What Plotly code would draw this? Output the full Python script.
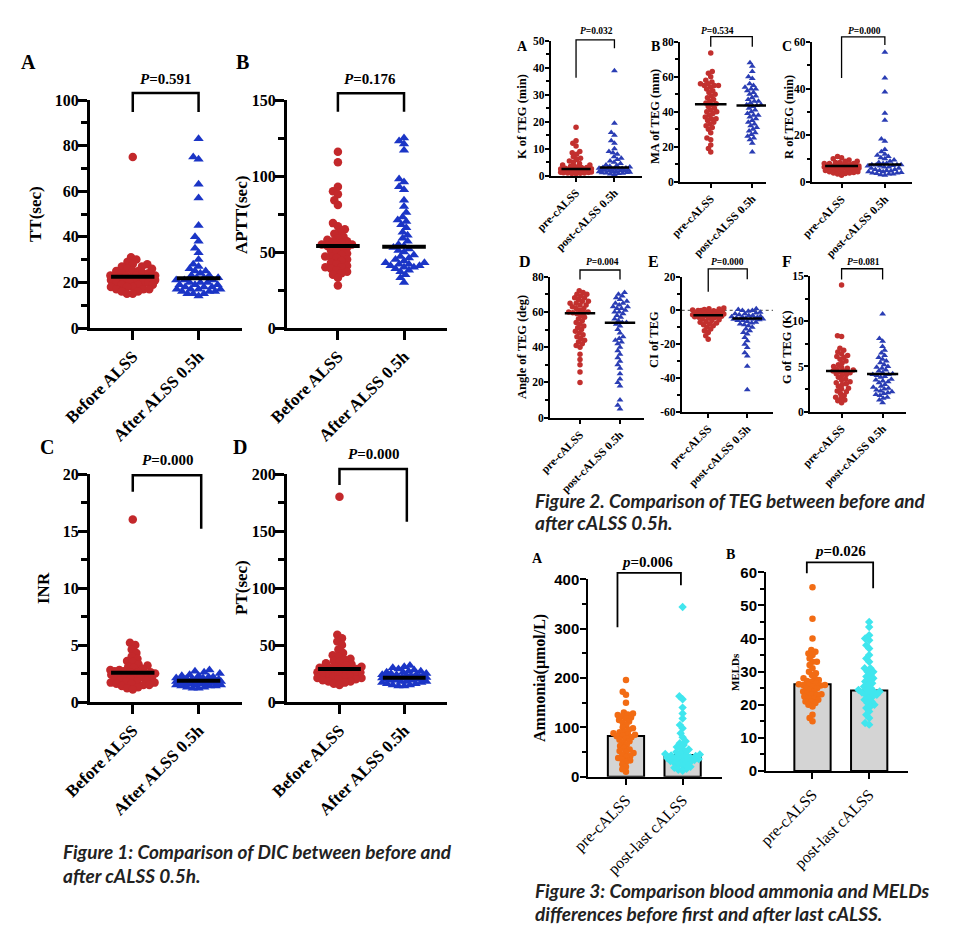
import math
import numpy as np
import plotly.graph_objects as go

W, H = 960, 932
OX, OY = 8, 8  # the page body adds an 8px margin; compensate so the picture lines up

# ---------------- data ----------------
# Figure 1 (DIC)
cat1 = ["Before ALSS", "After ALSS 0.5h"]
TT_before = [75, 31, 30, 29, 28, 28, 27, 27, 26, 26, 25, 25, 25, 24, 24, 24, 23, 23, 23, 23, 22.5, 22.5,
             22, 22, 22, 22, 21, 21, 21, 21, 20, 20, 20, 20, 19, 19, 19, 18, 18, 18, 17, 17, 17, 16, 16, 15, 15]
TT_after = [83, 75, 74, 63, 57, 45, 40, 38, 35, 33, 30, 28, 27, 26, 25, 25, 24, 23, 23, 22, 22, 22, 21, 21,
            21, 20, 20, 20, 19, 19, 19, 18, 18, 18, 17, 17, 17, 17, 16, 16, 16, 15, 15, 15, 14]
APTT_before = [116, 109, 93, 90, 88, 84, 81, 69, 67, 65, 63, 62, 60, 59, 58, 57, 57, 56, 55, 55, 54, 54, 53,
               52, 51, 50, 49, 48, 47, 47, 46, 45, 44, 43, 42, 41, 40, 40, 39, 38, 37, 36, 35, 33, 28]
APTT_after = [125, 123, 121, 117, 98, 96, 93, 91, 84, 80, 76, 73, 71, 70, 68, 66, 63, 61, 59, 57, 55, 54, 53,
              52, 51, 50, 48, 47, 46, 45, 44, 43, 43, 42, 42, 41, 41, 40, 40, 39, 38, 37, 35, 33, 30]
INR_before = [16, 5.2, 5.0, 4.6, 4.3, 4.0, 3.8, 3.6, 3.5, 3.3, 3.2, 3.1, 3.0, 2.9, 2.8, 2.8, 2.7, 2.7, 2.6,
              2.6, 2.6, 2.5, 2.5, 2.4, 2.4, 2.3, 2.3, 2.2, 2.1, 2.0, 2.0, 1.9, 1.9, 1.8, 1.8, 1.7, 1.7, 1.6,
              1.6, 1.5, 1.5, 1.4, 1.3, 1.2, 1.1]
INR_after = [2.8, 2.7, 2.6, 2.5, 2.4, 2.3, 2.3, 2.2, 2.2, 2.1, 2.1, 2.05, 2.0, 2.0, 2.0, 1.95, 1.9, 1.9, 1.9,
             1.9, 1.85, 1.85, 1.8, 1.8, 1.8, 1.8, 1.75, 1.7, 1.7, 1.7, 1.7, 1.6, 1.6, 1.6, 1.6, 1.5, 1.5, 1.5,
             1.4, 1.4, 1.4, 1.3, 1.3, 1.2, 1.2]
PT_before = [180, 59, 56, 53, 50, 46, 43, 41, 40, 38, 37, 36, 35, 34, 33, 32, 31, 31, 30, 30, 29, 29, 28,
             28, 27, 27, 26, 26, 25, 25, 24, 24, 23, 22, 22, 21, 21, 20, 20, 19, 18, 18, 17, 16, 15]
PT_after = [32, 31, 30, 29, 28, 27, 27, 26, 26, 25, 25, 24, 24, 24, 23, 23, 23, 22.5, 22, 22, 22, 22, 21.5,
            21.5, 21, 21, 21, 21, 20, 20, 20, 19, 19, 19, 18, 18, 18, 17, 17, 16, 16, 15, 15, 14, 14]
med_TT, med_APTT, med_INR, med_PT = [22.5, 21.8], [54, 53.5], [2.57, 1.87], [29, 21.3]

# Figure 2 (TEG)
cat2 = ["pre-cALSS", "post-cALSS 0.5h"]
K_before = [18, 13, 12, 11, 9, 8.5, 8, 7, 6.5, 6, 5.5, 5, 4.5, 4, 4, 3.5, 3.5, 3, 3, 3, 2.8, 2.6, 2.5, 2.5,
            2.4, 2.3, 2.2, 2.1, 2.0, 2.0, 1.9, 1.8, 1.7, 1.6, 1.5, 1.5, 1.4, 1.3, 1.2, 1.1, 1.0, 1.0, 0.9, 0.8, 0.7]
K_after = [39, 19.5, 16, 15, 13, 12, 10, 9, 8.5, 8, 7, 6.5, 6, 5.5, 5, 4.5, 4, 3.8, 3.5, 3.2, 3.0, 2.9, 2.8,
           2.7, 2.6, 2.5, 2.4, 2.3, 2.2, 2.1, 2.0, 1.9, 1.8, 1.7, 1.6, 1.5, 1.4, 1.3, 1.2, 1.1, 1.0, 0.9, 0.8, 0.6, 0.4]
MA_before = [73.5, 63, 62, 60, 58, 57, 56, 56, 55, 55, 55, 54, 53, 52, 51, 50, 49, 48, 47, 46, 45, 44.5, 44,
             43, 42, 41, 40, 40, 39, 38, 37, 36, 36, 35, 34, 33, 32, 31, 30, 28, 25, 24, 21, 19, 17]
MA_after = [68, 66, 63, 60, 59, 56, 55, 54, 53, 53, 52, 51, 50, 49, 48, 47, 46, 46, 45, 44, 44, 43.5, 43, 42,
            41, 40, 39, 38, 38, 37, 36, 35, 34, 33, 32, 31, 30, 29, 28, 27, 26, 25, 24, 22, 17]
R_before = [11, 10.5, 10, 9.5, 9, 9, 8.5, 8.5, 8, 8, 8, 7.5, 7.5, 7.5, 7, 7, 7, 7, 7, 6.8, 6.8, 6.8, 6.7, 6.5,
            6.5, 6.5, 6.2, 6, 6, 6, 5.8, 5.5, 5.5, 5.2, 5, 5, 4.8, 4.5, 4.5, 4.2, 4, 4, 3.8, 3.5, 3]
R_after = [55.5, 44.5, 38.5, 29.5, 26.5, 18.5, 17.5, 14, 13, 12, 11.5, 11, 10.5, 10, 9.5, 9, 8.5, 8, 8, 7.5,
           7.5, 7.5, 7.4, 7.2, 7, 7, 6.5, 6.5, 6, 6, 5.5, 5.5, 5, 5, 4.8, 4.5, 4.5, 4.2, 4, 4, 3.8, 3.5, 3.5, 3.2, 3]
Angle_before = [72, 71, 70, 70, 69, 68, 68, 67, 66, 66, 65, 65, 64, 64, 63, 62, 62, 61, 60, 60, 59.5, 59.5, 59,
                58, 57, 56, 55, 54, 53, 52, 51, 50, 49, 48, 47, 46, 45, 44, 43, 42, 41, 40, 36, 33, 30, 26, 20]
Angle_after = [71, 70, 69, 68, 67, 66, 65, 65, 64, 63, 63, 62, 62, 61, 60, 60, 59, 58, 57, 56, 55, 54, 54, 53,
               52, 50, 48, 46, 45, 44, 43, 42, 40, 38, 36, 34, 32, 30, 28, 25, 22, 20, 18, 10, 7, 5]
CI_before = [1.5, 1.0, 0.8, 0.5, 0.3, 0, 0, -0.2, -0.5, -0.8, -1, -1.1, -1.2, -1.5, -1.8, -2, -2.1, -2.2, -2.5,
             -2.5, -2.8, -3, -3, -3, -3.2, -3.5, -3.8, -4, -4.2, -4.5, -5, -5.5, -6, -6.5, -7, -7.5, -8, -8.5,
             -9, -10, -11, -12, -13, -15, -17]
CI_after = [1, 0.5, 0, 0, -0.5, -1, -1.5, -2, -2, -2.5, -3, -3, -3.5, -3.8, -4, -4, -4.5, -4.6, -5, -5, -5, -5,
            -5.2, -5.5, -6, -6, -6.5, -7, -7.5, -8, -8.5, -9, -10, -11, -12, -13, -14, -16, -18, -20, -22, -25,
            -27, -33, -47]
G_before = [14, 8.4, 8.3, 7.0, 6.8, 6.6, 6.4, 6.2, 6.1, 6.0, 5.8, 5.6, 5.4, 5.2, 5.0, 4.9, 4.8, 4.7, 4.6, 4.5,
            4.5, 4.4, 4.3, 4.2, 4.1, 4.0, 3.8, 3.6, 3.5, 3.3, 3.2, 3.1, 3.0, 2.8, 2.6, 2.5, 2.3, 2.2, 2.0, 1.8,
            1.6, 1.5, 1.3, 1.2, 1.0]
G_after = [10.8, 8.1, 7.8, 7.2, 6.8, 6.5, 6.2, 6.0, 5.8, 5.6, 5.4, 5.2, 5.0, 4.9, 4.8, 4.6, 4.5, 4.3, 4.2, 4.1,
           4.1, 4.0, 3.9, 3.8, 3.6, 3.5, 3.4, 3.3, 3.2, 3.0, 2.8, 2.7, 2.6, 2.5, 2.4, 2.3, 2.2, 2.1, 2.0, 1.9,
           1.8, 1.6, 1.5, 1.3, 1.0]
med_K, med_MA, med_R = [2.5, 3.0], [44.3, 43.6], [7.0, 7.6]
med_Angle, med_CI, med_G = [59.3, 53.9], [-2.8, -4.7], [4.5, 4.17]

# Figure 3 (ammonia / MELD)
cat3 = ["pre-cALSS", "post-last cALSS"]
NH3_before = [196, 172, 166, 150, 130, 128, 126, 125, 122, 120, 118, 115, 112, 110, 105, 100, 98, 95, 92, 90,
              88, 86, 85, 83, 82, 80, 78, 75, 72, 70, 65, 62, 58, 55, 52, 50, 48, 45, 42, 40, 38, 35, 33, 30,
              25, 20, 15, 10]
NH3_after = [344, 163, 157, 140, 128, 118, 105, 98, 88, 80, 72, 68, 64, 60, 57, 55, 52, 50, 48, 46, 45, 44, 43,
             42, 41, 40, 39, 38, 37, 36, 35, 34, 33, 32, 31, 30, 28, 26, 24, 22, 20, 18, 16, 14, 12]
MELD_before = [55.5, 46, 40, 36.5, 36, 35.5, 35, 34, 33, 33, 32, 31, 30, 29.5, 29, 28, 28, 27.5, 27.2, 27, 26.5,
               26.2, 26, 26, 26, 25.8, 25.5, 25, 25, 24.5, 24, 24, 23.5, 23.2, 23, 23, 22.5, 22, 22, 21.5, 21,
               21, 20.5, 20, 19.5, 17, 16, 15]
MELD_after = [45, 43.5, 41, 40, 39.5, 38, 37, 35, 34, 33, 31, 31, 30, 30, 29, 28.5, 28, 27.5, 27, 26.5, 26,
              25.5, 25, 24.5, 24.5, 24, 24, 23.7, 23.5, 23, 23, 22.5, 22, 21.5, 21, 20.5, 20, 19.5, 19, 18, 17,
              16, 14.5, 14]
bar_NH3, bar_MELD = [82.5, 44], [26.2, 24.3]

# ---------------- layout geometry (pixels of the target picture) ----------------
panels = {}


def add_panel(key, left, right, top, bottom, xr, yr):
    panels[key] = dict(n=len(panels) + 1, left=left, right=right, top=top, bottom=bottom, xr=xr, yr=yr)


add_panel("TT", 90, 242, 100, 328, [-0.65, 1.66], [0, 100])
add_panel("APTT", 287, 447, 100, 328, [-0.77, 1.65], [0, 150])
add_panel("INR", 90, 242, 474, 702, [-0.65, 1.66], [0, 20])
add_panel("PT", 287, 447, 474, 702, [-0.81, 1.66], [0, 200])
add_panel("K", 550.7, 641.7, 41, 175.7, [-0.66, 1.71], [0, 50])
add_panel("MA", 680, 766, 41.7, 181.7, [-0.74, 1.33], [0, 80])
add_panel("R", 811.7, 911.7, 41.7, 182.3, [-0.69, 1.62], [0, 60])
add_panel("Angle", 550, 644, 276.7, 417.7, [-0.75, 1.6], [0, 80])
add_panel("CI", 681.7, 773, 276.7, 411.7, [-0.68, 1.66], [-60, 20])
add_panel("G", 810, 906, 276, 411.7, [-0.77, 1.57], [0, 15])
add_panel("NH3", 588.3, 721.7, 579.3, 776.7, [-0.665, 1.69], [0, 400])
add_panel("MELD", 766, 908.3, 572.3, 771, [-0.82, 1.69], [0, 60])


def fx(px):
    return (px - OX) / W


def fy(py):
    return 1 - (py - OY) / H


def sfx(key):
    n = panels[key]["n"]
    return "" if n == 1 else str(n)


def to_paper(key, xv, yv):
    p = panels[key]
    px = p["left"] + (xv - p["xr"][0]) / (p["xr"][1] - p["xr"][0]) * (p["right"] - p["left"])
    py = p["bottom"] - (yv - p["yr"][0]) / (p["yr"][1] - p["yr"][0]) * (p["bottom"] - p["top"])
    return fx(px), fy(py)


def swarm(key, values, d, maxw):
    p = panels[key]
    xpx = (p["right"] - p["left"]) / (p["xr"][1] - p["xr"][0])
    ypx = (p["bottom"] - p["top"]) / (p["yr"][1] - p["yr"][0])
    lim = maxw * xpx
    order = sorted(range(len(values)), key=lambda i: values[i])
    placed = []
    offs = [0.0] * len(values)
    for i in order:
        y = values[i] * ypx
        cands = [0.0]
        for (qx, qy) in placed:
            dy = abs(qy - y)
            if dy < d:
                dx = math.sqrt(d * d - dy * dy)
                cands += [qx + dx, qx - dx]
        cands.sort(key=lambda c: (abs(c), c))
        best = None
        for c in cands:
            if abs(c) > lim + 1e-9:
                continue
            if all((c - qx) ** 2 + (y - qy) ** 2 >= d * d - 1e-6 for qx, qy in placed):
                best = c
                break
        if best is None:
            grid = np.linspace(-lim, lim, 41)
            scores = []
            for g in grid:
                md = min([math.hypot(g - qx, y - qy) for qx, qy in placed] or [1e9])
                scores.append((-round(md, 3), abs(g)))
            best = grid[min(range(len(grid)), key=lambda k: scores[k])]
        placed.append((best, y))
        offs[i] = best / xpx
    return offs


fig = go.Figure()

SERIF = "Liberation Serif"
SANS = "Liberation Sans"


def style_axes(key, cats, yticks, minor, st):
    s = sfx(key)
    p = panels[key]
    fig.update_layout(**{
        f"xaxis{s}": dict(
            domain=[fx(p["left"]), fx(p["right"])], range=p["xr"], anchor=f"y{s}", automargin=False,
            showline=True, linewidth=st["lw"], linecolor="black", showgrid=False, zeroline=False,
            tickvals=[0, 1], ticktext=cats, ticks="outside", ticklen=st["tl"], tickwidth=st["lw"],
            tickcolor="black", tickangle=-45,
            tickfont=dict(family=st["xfam"], size=st["xfs"], color="black", weight=st["xw"]),
        ),
        f"yaxis{s}": dict(
            domain=[fy(p["bottom"]), fy(p["top"])], range=p["yr"], anchor=f"x{s}", automargin=False,
            showline=True, linewidth=st["lw"], linecolor="black", showgrid=False, zeroline=False,
            tickvals=yticks, ticktext=[str(v) for v in yticks], ticks="outside", ticklen=st["tl"],
            tickwidth=st["lw"], tickcolor="black", ticklabelstandoff=st["so"],
            tickfont=dict(family=st["yfam"], size=st["yfs"], color="black", weight="bold"),
            minor=dict(tickvals=minor, ticks="outside", ticklen=st["mtl"], tickwidth=st["lw"],
                       tickcolor="black", showgrid=False),
        ),
    })


def add_points(key, values, xpos, color, symbol, size, d, maxw):
    s = sfx(key)
    offs = swarm(key, values, d, maxw)
    fig.add_trace(go.Scatter(
        x=[xpos + o for o in offs], y=values, mode="markers", cliponaxis=False,
        marker=dict(color=color, symbol=symbol, size=size, line=dict(width=0)),
        xaxis=f"x{s}", yaxis=f"y{s}", showlegend=False, hoverinfo="y"))


def add_median(key, xpos, m, half, width):
    s = sfx(key)
    fig.add_trace(go.Scatter(
        x=[xpos - half, xpos + half], y=[m, m], mode="lines", line=dict(color="black", width=width),
        xaxis=f"x{s}", yaxis=f"y{s}", showlegend=False, hoverinfo="skip", cliponaxis=False))


shapes = []
annots = []


def bracket(key, x0, x1, ytop, yl, yr, width):
    ax, ay = to_paper(key, x0, yl)
    bx, by = to_paper(key, x0, ytop)
    cx, cy = to_paper(key, x1, ytop)
    dx, dy = to_paper(key, x1, yr)
    shapes.append(dict(type="path", xref="paper", yref="paper",
                       path=f"M{ax},{ay} L{bx},{by} L{cx},{cy} L{dx},{dy}",
                       line=dict(color="black", width=width)))


def text(px, py, t, family, size, bold=True, angle=0, xanchor="center", color="black"):
    annots.append(dict(x=fx(px), y=fy(py), xref="paper", yref="paper", text=t, showarrow=False,
                       xanchor=xanchor, yanchor="middle", textangle=angle,
                       font=dict(family=family, size=size, color=color, weight="bold" if bold else "normal")))


# ---------------- Figure 1 ----------------
st1 = dict(lw=3, tl=9, mtl=6, xfam=SERIF, xfs=17, xw="bold", yfam=SERIF, yfs=16, so=-4)
RED1, BLUE1 = "#c3282b", "#1b35c6"
fig1 = [
    ("TT", TT_before, TT_after, med_TT, [0, 20, 40, 60, 80, 100], [10, 30, 50, 70, 90]),
    ("APTT", APTT_before, APTT_after, med_APTT, [0, 50, 100, 150], [25, 75, 125]),
    ("INR", INR_before, INR_after, med_INR, [0, 5, 10, 15, 20], [2.5, 7.5, 12.5, 17.5]),
    ("PT", PT_before, PT_after, med_PT, [0, 50, 100, 150, 200], [25, 75, 125, 175]),
]
for key, b, a, med, yt, mn in fig1:
    style_axes(key, cat1, yt, mn, st1)
    add_points(key, b, 0, RED1, "circle", 8.5, 5.8, 0.34)
    add_points(key, a, 1, BLUE1, "triangle-up", 9, 5.8, 0.34)
    add_median(key, 0, med[0], 0.33, 4)
    add_median(key, 1, med[1], 0.33, 4)

bracket("TT", 0, 1, 103.1, 94.7, 94.7, 2.5)
bracket("APTT", 0, 1, 154.4, 142.3, 142.3, 2.5)
bracket("INR", 0, 1.04, 19.9, 18.45, 15.2, 2.5)
bracket("PT", 0, 1.04, 204.4, 190.4, 158.2, 2.5)
text(165, 79, "<i>P</i>=0.591", SERIF, 15)
text(370, 79, "<i>P</i>=0.176", SERIF, 15)
text(167, 460, "<i>P</i>=0.000", SERIF, 15)
text(373, 454, "<i>P</i>=0.000", SERIF, 15)
text(28, 62, "A", SERIF, 20)
text(242, 62, "B", SERIF, 20)
text(47, 447, "C", SERIF, 20)
text(240, 447, "D", SERIF, 20)
text(35, 214, "TT(sec)", SERIF, 17, angle=-90)
text(241, 215, "APTT(sec)", SERIF, 17, angle=-90)
text(43, 588, "INR", SERIF, 17, angle=-90)
text(241, 588, "PT(sec)", SERIF, 17, angle=-90)

# ---------------- Figure 2 ----------------
st2 = dict(lw=1.8, tl=4, mtl=3, xfam=SERIF, xfs=11.5, xw="bold", yfam=SERIF, yfs=11.5, so=-2)
RED2, BLUE2 = "#c2302e", "#2a3db4"
fig2 = [
    ("K", K_before, K_after, med_K, [0, 10, 20, 30, 40, 50], [5, 15, 25, 35, 45]),
    ("MA", MA_before, MA_after, med_MA, [0, 20, 40, 60, 80], [10, 30, 50, 70]),
    ("R", R_before, R_after, med_R, [0, 20, 40, 60], [10, 30, 50]),
    ("Angle", Angle_before, Angle_after, med_Angle, [0, 20, 40, 60, 80], [10, 30, 50, 70]),
    ("CI", CI_before, CI_after, med_CI, [-60, -40, -20, 0, 20], [-50, -30, -10, 10]),
    ("G", G_before, G_after, med_G, [0, 5, 10, 15], [2.5, 7.5, 12.5]),
]
for key, b, a, med, yt, mn in fig2:
    style_axes(key, cat2, yt, mn, st2)
    if key == "CI":
        s = sfx(key)
        fig.add_trace(go.Scatter(x=panels[key]["xr"], y=[0, 0], mode="lines",
                                 line=dict(color="#666666", width=1.3, dash="dot"),
                                 xaxis=f"x{s}", yaxis=f"y{s}", showlegend=False, hoverinfo="skip"))
    add_points(key, b, 0, RED2, "circle", 5.5, 4.2, 0.4)
    add_points(key, a, 1, BLUE2, "triangle-up", 6, 4.2, 0.4)
    add_median(key, 0, med[0], 0.38, 2.5)
    add_median(key, 1, med[1], 0.38, 2.5)

bracket("K", 0, 1, 50.4, 36.4, 47.3, 1.3)
bracket("MA", 0, 1, 82.9, 77.1, 77.1, 1.3)
bracket("R", 0, 1, 62.1, 44.5, 58.6, 1.3)
bracket("Angle", 0, 1, 83.8, 78.4, 78.4, 1.3)
bracket("CI", 0, 1, 24.6, 11.1, 18.5, 1.3)
bracket("G", 0, 1, 15.8, 14.6, 14.6, 1.3)
text(596, 31, "<i>P</i>=0.032", SERIF, 9.5)
text(717, 31, "<i>P</i>=0.534", SERIF, 9.5)
text(864, 31, "<i>P</i>=0.000", SERIF, 9.5)
text(602, 262, "<i>P</i>=0.004", SERIF, 9.5)
text(727, 262, "<i>P</i>=0.000", SERIF, 9.5)
text(863, 262, "<i>P</i>=0.081", SERIF, 9.5)
text(522, 46, "A", SERIF, 14)
text(655, 46, "B", SERIF, 14)
text(787, 46, "C", SERIF, 14)
text(525, 261, "D", SERIF, 16)
text(653, 261, "E", SERIF, 16)
text(787, 261, "F", SERIF, 16)
text(522, 117, "K of TEG (min)", SERIF, 12.5, angle=-90)
text(655, 117, "MA of TEG (mm)", SERIF, 12.5, angle=-90)
text(789, 117, "R of TEG (min)", SERIF, 12.5, angle=-90)
text(522, 347, "Angle of TEG (deg)", SERIF, 12.5, angle=-90)
text(654, 340, "CI of TEG", SERIF, 12.5, angle=-90)
text(787, 347, "G of TEG (K)", SERIF, 12.5, angle=-90)

# ---------------- Figure 3 ----------------
st3 = dict(lw=2, tl=6, mtl=4, xfam=SERIF, xfs=16, xw="normal", yfam=SANS, yfs=15, so=-2)
ORANGE, CYAN = "#f26c14", "#40e6ee"
fig3 = [
    ("NH3", NH3_before, NH3_after, bar_NH3, [0, 100, 200, 300, 400], [50, 150, 250, 350]),
    ("MELD", MELD_before, MELD_after, bar_MELD, [0, 10, 20, 30, 40, 50, 60], [5, 15, 25, 35, 45, 55]),
]
for key, b, a, bars, yt, mn in fig3:
    style_axes(key, cat3, yt, mn, st3)
    s = sfx(key)
    fig.add_trace(go.Bar(x=[0, 1], y=bars, width=0.64, marker=dict(color="#d4d4d4",
                         line=dict(color="black", width=2)),
                         xaxis=f"x{s}", yaxis=f"y{s}", showlegend=False, hoverinfo="y"))
    add_points(key, b, 0, ORANGE, "circle", 6.5, 4.4, 0.33)
    add_points(key, a, 1, CYAN, "diamond", 6.5, 4.4, 0.33)

bracket("NH3", -0.15, 0.97, 413, 303, 388, 1.8)
bracket("MELD", -0.1, 1.07, 63, 59.7, 55.2, 1.8)
text(647, 562, "<i>p</i>=0.006", SERIF, 15)
text(840, 551, "<i>p</i>=0.026", SERIF, 15)
text(537, 558, "A", SERIF, 14)
text(730, 554, "B", SERIF, 14)
text(540, 678, "Ammonia(μmol/L)", SERIF, 16, angle=-90)
text(735, 672, "MELDs", SERIF, 11, angle=-90)

# ---------------- captions ----------------
CAP = "Lato"
CS = 19
text(61, 851, "<i>Figure 1: Comparison of DIC between before and</i>", CAP, CS, xanchor="left", color="#222222")
text(61, 875, "<i>after cALSS 0.5h.</i>", CAP, CS, xanchor="left", color="#222222")
text(533, 500, "<i>Figure 2. Comparison of TEG between before and</i>", CAP, CS, xanchor="left", color="#222222")
text(533, 522, "<i>after cALSS 0.5h.</i>", CAP, CS, xanchor="left", color="#222222")
text(533, 890, "<i>Figure 3: Comparison blood ammonia and MELDs</i>", CAP, CS, xanchor="left", color="#222222")
text(533, 913, "<i>differences before first and after last cALSS.</i>", CAP, CS, xanchor="left", color="#222222")

fig.update_layout(
    width=W, height=H, autosize=False, margin=dict(l=0, r=0, t=0, b=0, pad=0, autoexpand=False),
    paper_bgcolor="white", plot_bgcolor="white", showlegend=False,
    shapes=shapes, annotations=annots, barmode="overlay",
)

fig.write_html("out.html")
